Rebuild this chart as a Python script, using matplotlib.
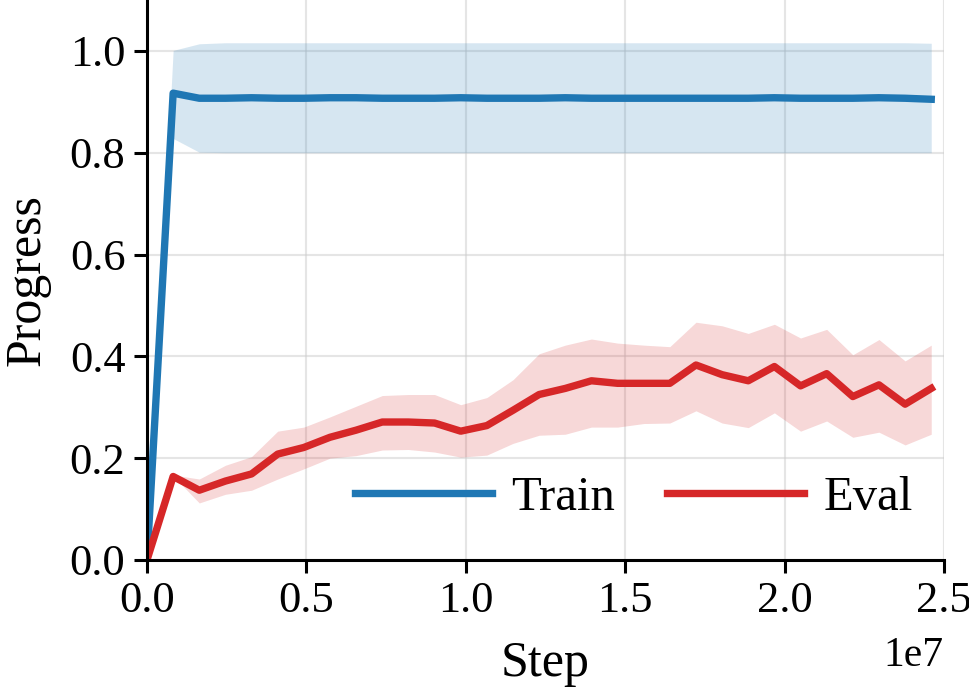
import matplotlib
matplotlib.use("Agg")
import matplotlib.pyplot as plt
import matplotlib.transforms as mtransforms

# steps (in units of 1e6)
steps_m = [0.0, 0.82, 1.64, 2.46, 3.28, 4.10, 4.92, 5.74, 6.56, 7.38,
           8.20, 9.02, 9.84, 10.66, 11.48, 12.30, 13.12, 13.94, 14.76, 15.58,
           16.40, 17.22, 18.04, 18.86, 19.68, 20.50, 21.32, 22.14, 22.96, 23.78,
           24.60]

train_mean = [0.0, 0.917, 0.907, 0.907, 0.908, 0.907, 0.907, 0.908, 0.908, 0.907,
              0.907, 0.907, 0.908, 0.907, 0.907, 0.907, 0.908, 0.907, 0.907, 0.907,
              0.907, 0.907, 0.907, 0.907, 0.908, 0.907, 0.907, 0.907, 0.908, 0.907,
              0.905]
train_upper = [0.0, 1.001, 1.014, 1.016, 1.016, 1.016, 1.016, 1.016, 1.016, 1.016,
               1.016, 1.016, 1.016, 1.016, 1.016, 1.016, 1.016, 1.016, 1.016, 1.016,
               1.016, 1.016, 1.016, 1.016, 1.016, 1.016, 1.016, 1.016, 1.016, 1.016,
               1.015]
train_lower = [0.0, 0.828, 0.801, 0.800, 0.800, 0.800, 0.800, 0.800, 0.800, 0.800,
               0.800, 0.800, 0.800, 0.800, 0.800, 0.800, 0.800, 0.800, 0.800, 0.800,
               0.800, 0.800, 0.800, 0.800, 0.800, 0.800, 0.800, 0.800, 0.800, 0.800,
               0.800]

eval_mean = [0.0, 0.164, 0.137, 0.155, 0.169, 0.208, 0.221, 0.241, 0.255, 0.271,
             0.271, 0.269, 0.253, 0.264, 0.294, 0.325, 0.337, 0.352, 0.347, 0.347,
             0.347, 0.383, 0.364, 0.352, 0.380, 0.342, 0.366, 0.321, 0.344, 0.306,
             0.337]
eval_upper = [0.0, 0.167, 0.159, 0.186, 0.203, 0.253, 0.261, 0.281, 0.302, 0.323,
              0.325, 0.325, 0.305, 0.319, 0.354, 0.405, 0.422, 0.434, 0.426, 0.422,
              0.419, 0.467, 0.460, 0.445, 0.463, 0.436, 0.453, 0.403, 0.433, 0.391,
              0.422]
eval_lower = [0.0, 0.165, 0.112, 0.129, 0.137, 0.159, 0.179, 0.200, 0.205, 0.216,
              0.217, 0.212, 0.202, 0.206, 0.229, 0.245, 0.247, 0.261, 0.261, 0.268,
              0.269, 0.293, 0.269, 0.260, 0.289, 0.253, 0.273, 0.241, 0.251, 0.226,
              0.247]

steps = [s * 1e6 for s in steps_m]

plt.rcParams["font.family"] = ["Liberation Serif", "DejaVu Serif"]
plt.rcParams["font.size"] = 34

fig = plt.figure(figsize=(9.69, 6.92), dpi=100)
ax = fig.add_axes([0.1517, 0.1908, 0.8225, 0.8092])

blue = "#1f77b4"
red = "#d62728"

ax.fill_between(steps, train_lower, train_upper, color=blue, alpha=0.18, linewidth=0)
ax.fill_between(steps, eval_lower, eval_upper, color=red, alpha=0.18, linewidth=0)
ax.plot(steps, train_mean, color=blue, linewidth=5.3, label="Train")
ax.plot(steps, eval_mean, color=red, linewidth=5.3, label="Eval")

ax.set_xlim(0, 2.5e7)
ax.set_ylim(0, 1.1)
ax.set_yticks([0.0, 0.2, 0.4, 0.6, 0.8, 1.0])
ax.set_xticks([0, 0.5e7, 1.0e7, 1.5e7, 2.0e7, 2.5e7])
ax.grid(True, color="#cccccc", alpha=0.5, linewidth=1.5)
ax.set_axisbelow(True)

for side in ["top", "right"]:
    ax.spines[side].set_visible(False)
for side in ["left", "bottom"]:
    ax.spines[side].set_linewidth(2.2)
ax.tick_params(width=2.2, length=9.5, labelsize=32, pad=6)

# push the "1e7" offset text a little lower
off = ax.xaxis.get_offset_text()
off.set_fontsize(30)
off.set_transform(off.get_transform() +
                  mtransforms.ScaledTranslation(0, -8 / 72, fig.dpi_scale_trans))

ax.set_xlabel("Step", fontsize=36, labelpad=14)
ax.set_ylabel("Progress", fontsize=36, labelpad=14)

ax.legend(loc="center", bbox_to_anchor=(0.611, 0.11), ncol=2, frameon=False,
          handlelength=2.82, columnspacing=1.07, handletextpad=0.39, fontsize=35)

fig.savefig("out.png", dpi=100)
